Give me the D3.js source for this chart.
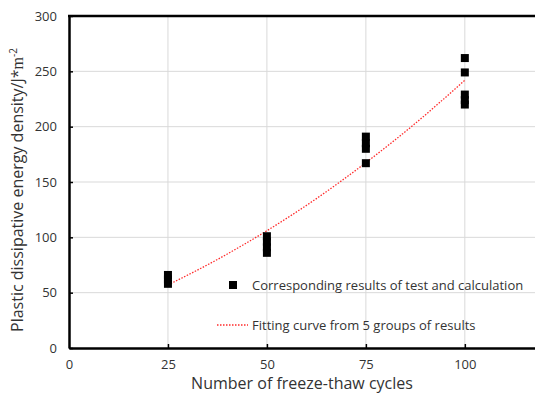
<!DOCTYPE html>
<html>
<head>
<meta charset="utf-8">
<title>Plastic dissipative energy density</title>
<script src="https://cdn.jsdelivr.net/npm/d3@7"></script>
<style>
    body { margin: 0; background: #fff; }
    text { font-family: "Open Sans", "Noto Sans", sans-serif; fill: #333; }
    .grid line { stroke: #d9d9d9; stroke-width: 1; }
</style>
</head>
<body>
<script>
// measured results, grouped by freeze-thaw cycle count
var cycles = [25, 50, 75, 100];
var results25 = [58, 62, 66];
var results50 = [86, 91, 96, 101];
var results75 = [167, 180, 185, 191];
var results100 = [220, 224, 229, 249, 262];

// fitting curve
var fitX = [25, 37.5, 50, 62.5, 75, 87.5, 100];
var fitY = [57, 80, 106, 135, 167.5, 203, 242];

var xTicks = [0, 25, 50, 75, 100];
var yTicks = [0, 50, 100, 150, 200, 250, 300];

var width = 535, height = 398;
var margin = {left: 69, top: 16, bottom: 50};

var svg = d3.select("body").append("svg")
    .attr("width", width)
    .attr("height", height);

var x = d3.scaleLinear().domain([0, 120]).range([margin.left, 544]);
var y = d3.scaleLinear().domain([0, 300]).range([height - margin.bottom, margin.top]);

// gridlines
var grid = svg.append("g").attr("class", "grid");
grid.selectAll("line.h").data(yTicks.slice(1, -1)).enter().append("line")
    .attr("x1", x(0)).attr("x2", x(120))
    .attr("y1", function (d) { return y(d); })
    .attr("y2", function (d) { return y(d); });
grid.selectAll("line.v").data(xTicks.slice(1)).enter().append("line")
    .attr("y1", y(0)).attr("y2", y(300))
    .attr("x1", function (d) { return x(d); })
    .attr("x2", function (d) { return x(d); });

// axes
var xAxis = svg.append("g")
    .attr("transform", "translate(0," + y(0) + ")")
    .call(d3.axisBottom(x).tickValues(xTicks).tickSizeInner(-4).tickSizeOuter(0).tickPadding(12));
var yAxis = svg.append("g")
    .attr("transform", "translate(" + x(0) + ",0)")
    .call(d3.axisLeft(y).tickValues(yTicks).tickSizeInner(-4).tickSizeOuter(0).tickPadding(12));

[xAxis, yAxis].forEach(function (a) {
    a.select(".domain").attr("stroke", "#000").attr("stroke-width", 2.5);
    a.selectAll(".tick line").attr("stroke", "#000").attr("stroke-width", 1.5);
    a.selectAll(".tick text").style("font-size", "13px").attr("fill", "#333")
        .style("font-family", "'Open Sans', sans-serif");
});
xAxis.selectAll(".tick").filter(function (d) { return d === 0; }).select("line").remove();

// top border
svg.append("line")
    .attr("x1", x(0) - 1).attr("x2", x(120))
    .attr("y1", y(300)).attr("y2", y(300))
    .attr("stroke", "#000").attr("stroke-width", 2.5);

// fitting curve
var fitData = fitX.map(function (d, i) { return [d, fitY[i]]; });
svg.append("path")
    .datum(fitData)
    .attr("fill", "none")
    .attr("stroke", "#ff2b2b")
    .attr("stroke-width", 1.3)
    .attr("stroke-dasharray", "1.5,1.5")
    .attr("d", d3.line()
        .x(function (d) { return x(d[0]); })
        .y(function (d) { return y(d[1]); })
        .curve(d3.curveMonotoneX));

// measured points
var groups = [results25, results50, results75, results100];
var points = [];
groups.forEach(function (g, i) {
    g.forEach(function (v) { points.push({c: cycles[i], v: v}); });
});
var sq = 8;
svg.append("g").selectAll("rect").data(points).enter().append("rect")
    .attr("x", function (d) { return x(d.c) - sq / 2; })
    .attr("y", function (d) { return y(d.v) - sq / 2; })
    .attr("width", sq).attr("height", sq)
    .attr("fill", "#000");

// legend
var legend = svg.append("g");
legend.append("rect")
    .attr("x", 229).attr("y", 281).attr("width", 8).attr("height", 8)
    .attr("fill", "#000");
legend.append("text")
    .attr("x", 252).attr("y", 285).attr("dy", "0.35em")
    .style("font-size", "13px")
    .text("Corresponding results of test and calculation");
legend.append("line")
    .attr("x1", 217).attr("x2", 248).attr("y1", 325).attr("y2", 325)
    .attr("stroke", "#ff2b2b").attr("stroke-width", 1.3)
    .attr("stroke-dasharray", "1.5,1.5");
legend.append("text")
    .attr("x", 252).attr("y", 325).attr("dy", "0.35em")
    .style("font-size", "13px")
    .text("Fitting curve from 5 groups of results");

// axis titles
svg.append("text")
    .attr("x", 302).attr("y", 389)
    .attr("text-anchor", "middle")
    .style("font-size", "16px")
    .text("Number of freeze-thaw cycles");

var yTitle = svg.append("text")
    .attr("transform", "translate(23," + 190 + ") rotate(-90)")
    .attr("text-anchor", "middle")
    .style("font-size", "16px");
yTitle.append("tspan").text("Plastic dissipative energy density/J*");
yTitle.append("tspan").style("font-family", "'Liberation Serif', serif").text("m");
yTitle.append("tspan").attr("dy", "-6").style("font-size", "10px").text("-2");
</script>
</body>
</html>
